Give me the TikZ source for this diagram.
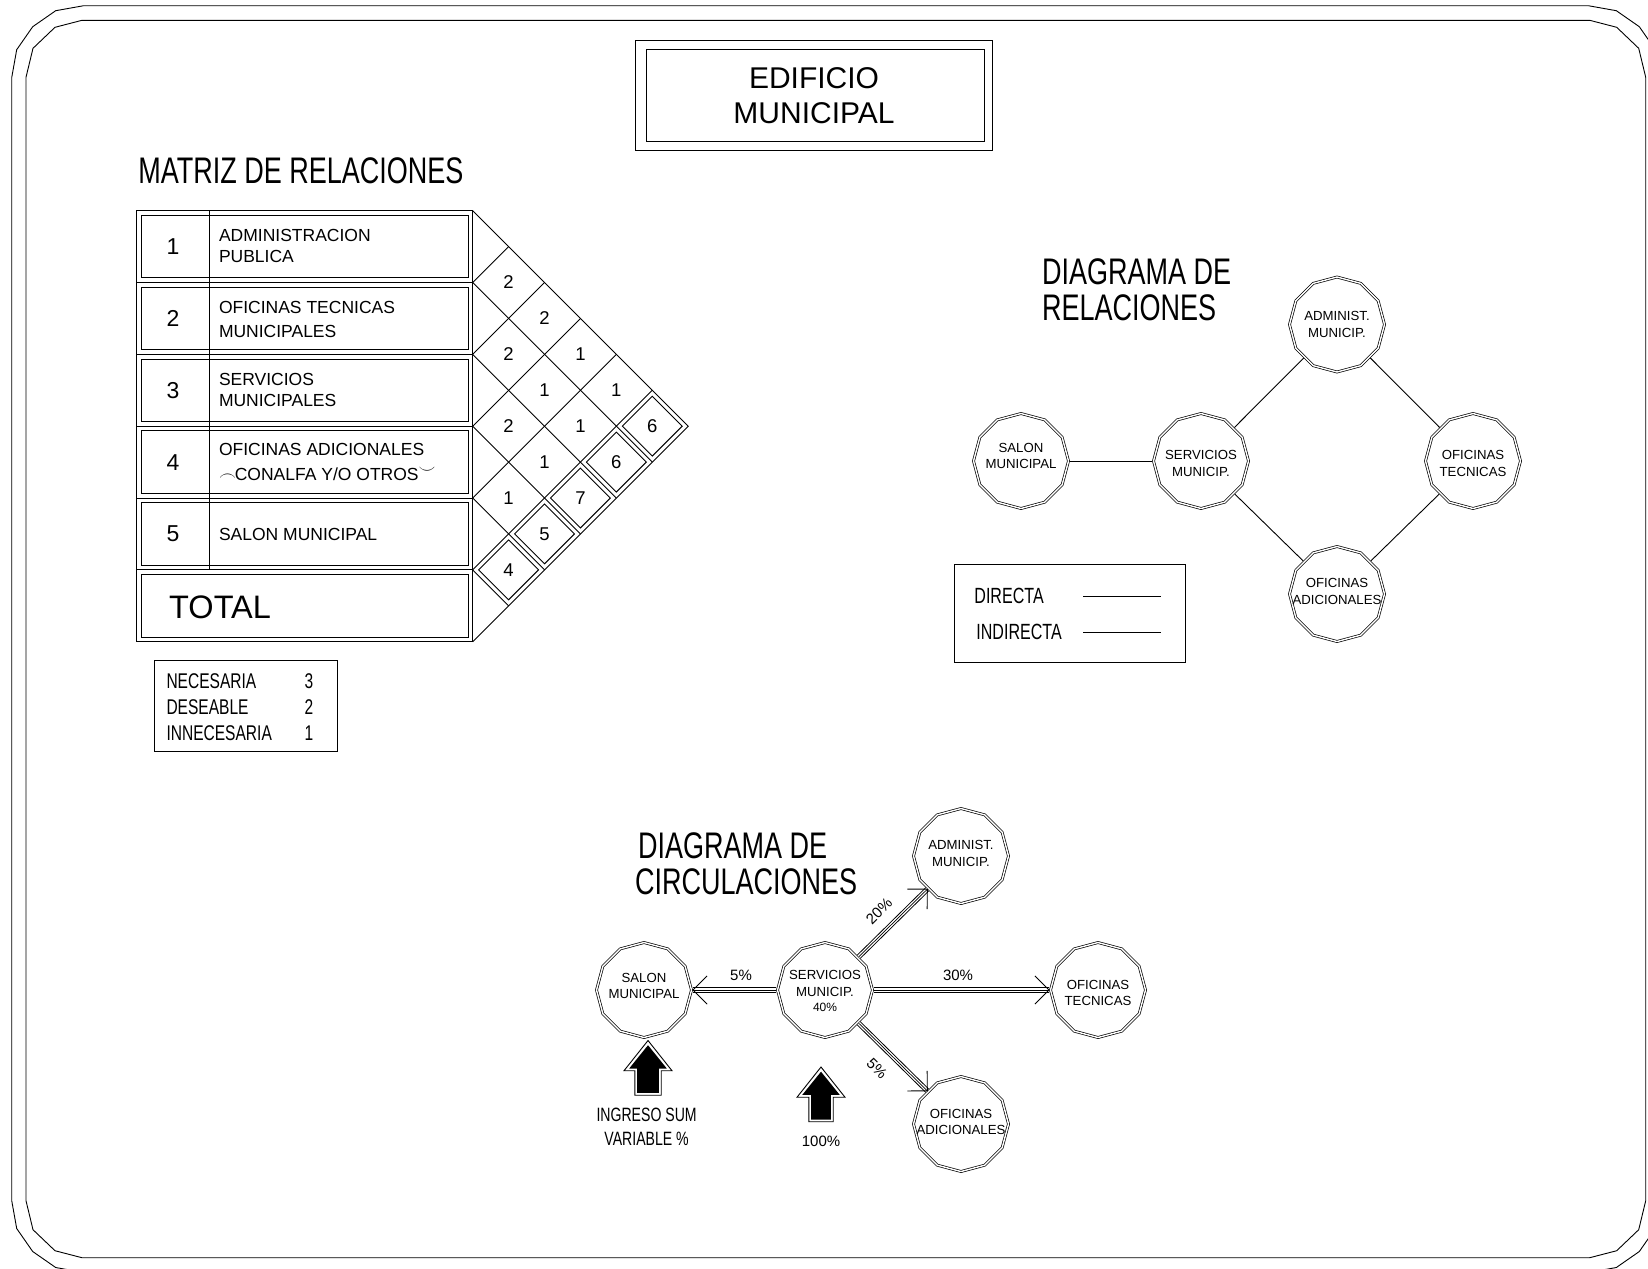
\documentclass[tikz,border=0pt]{standalone}
\usepackage{fontspec}
\setmainfont{Liberation Sans}
\newfontfamily\narrowf[FakeStretch=0.73]{Liberation Sans}
\usetikzlibrary{shapes.geometric,calc}
\tikzset{
  base/.style={inner sep=0pt, outer sep=0pt},
  bigtitle/.style={base, anchor=base west, font=\narrowf\fontsize{37bp}{44bp}\selectfont},
  boxtitle/.style={base, anchor=base, font=\fontsize{30bp}{36bp}\selectfont},
  rownum/.style={base, anchor=center, font=\fontsize{23bp}{27bp}\selectfont},
  rowtxt/.style={base, anchor=base west, font=\fontsize{17.5bp}{21bp}\selectfont},
  cellnum/.style={base, anchor=center, font=\fontsize{18.5bp}{22bp}\selectfont},
  legtxt/.style={base, anchor=base west, font=\narrowf\fontsize{21.3bp}{25bp}\selectfont},
  legnum/.style={base, anchor=base, font=\narrowf\fontsize{21.3bp}{25bp}\selectfont},
  poly/.style={regular polygon, regular polygon sides=12, shape border rotate=15,
    minimum size=95bp, inner sep=0pt, outer sep=1.4bp, draw, line width=0.7bp,
    double, double distance=1.4bp},
  ctext/.style={base, align=center, font=\fontsize{13.2bp}{16.5bp}\selectfont},
  pct/.style={base, anchor=base, font=\fontsize{15bp}{18bp}\selectfont},
  rel/.style={line width=0.9bp},
  tri/.style={draw=white, line width=3.3bp, preaction={draw=black, line width=5.2bp},
    postaction={draw=black, line width=0.7bp}},
  head/.style={line width=0.9bp},
}
\newcommand{\circarrow}[2]{%
  \draw[tri] (#1) -- (#2) coordinate[pos=1] (tip-#2);
  \draw[head] ($(tip-#2)!20bp!45:(#1)$) -- (tip-#2) -- ($(tip-#2)!20bp!-45:(#1)$);
}
\begin{document}
\begin{tikzpicture}[x=1bp, y=-1bp, line width=0.9bp]
\useasboundingbox (0,0) rectangle (1648,1268);
% ---------- frame ----------
\begin{scope}
\clip (0,0) rectangle (1648,1268);
\draw (83.7,5.7) -- (1588.3,5.7) -- (1616.3,10.7) -- (1639.3,26.7) -- (1655.3,49.7) -- (1660.3,77.7)
  -- (1660.3,1200.5) -- (1655.3,1228.5) -- (1639.3,1251.5) -- (1616.3,1267.5) -- (1588.3,1272.5)
  -- (83.7,1272.5) -- (55.7,1267.5) -- (32.7,1251.5) -- (16.7,1228.5) -- (11.7,1200.5)
  -- (11.7,77.7) -- (16.7,49.7) -- (32.7,26.7) -- (55.7,10.7) -- cycle;
\draw (82,20.3) -- (1589.7,20.3) -- (1616.7,27.3) -- (1638.7,48.3) -- (1645.7,77.3)
  -- (1645.7,1200.7) -- (1638.7,1229.7) -- (1616.7,1250.7) -- (1589.7,1257.7)
  -- (82,1257.7) -- (55,1250.7) -- (33,1229.7) -- (26,1200.7)
  -- (26,77.3) -- (33,48.3) -- (55,27.3) -- cycle;
\end{scope}
% ---------- title ----------
\draw (635.7,40) rectangle (992.7,150);
\draw (646,49) rectangle (984,141);
\node[boxtitle] (title1) at (814,88) {EDIFICIO};
\node[boxtitle] (title2) at (814,123) {MUNICIPAL};
% ---------- matrix ----------
\node[bigtitle] (mtitle) at (138.3,183) {MATRIZ DE RELACIONES};
\draw (136.6,210.7) rectangle (472.7,641.7);
\foreach \k in {1,...,5}{
  \draw (136.6,{210.7+\k*71.83}) -- (472.7,{210.7+\k*71.83});
}
\foreach \k in {0,...,5}{
  \draw (141.5,{210.7+\k*71.83+4.6}) rectangle (468.9,{210.7+(\k+1)*71.83-4.6});
}
\draw (209.5,210.7) -- (209.5,569.9);
\foreach \k in {1,...,5}{
  \node[rownum] (num\k) at (172.9,{210.7+(\k-0.5)*71.83}) {\k};
}
\node[rowtxt] (r1a) at (219,241.7) {ADMINISTRACION};
\node[rowtxt] (r1b) at (219,262.7) {PUBLICA};
\node[rowtxt] (r2a) at (219,313.3) {OFICINAS TECNICAS};
\node[rowtxt] (r2b) at (219,337.7) {MUNICIPALES};
\node[rowtxt] (r3a) at (219,385) {SERVICIOS};
\node[rowtxt] (r3b) at (219,406) {MUNICIPALES};
\node[rowtxt] (r4a) at (219,455) {OFICINAS ADICIONALES};
\node[rowtxt] (r4b) at (219,480.7) {$\frown$\kern-1bp CONALFA Y/O OTROS\raisebox{0.42em}{$\smile$}};
\node[rowtxt] (r5a) at (219,540) {SALON MUNICIPAL};
\node[base, anchor=base west, font=\fontsize{32.5bp}{38bp}\selectfont] (total) at (169.2,618.3) {TOTAL};
% triangle grid
\draw (472.7,210.7) -- (688.2,426.2) -- (472.7,641.7);
\foreach \k in {1,...,5}{
  \draw (472.7,{210.7+\k*71.83}) -- ++({(6-\k)*35.915},{(6-\k)*35.915});
  \draw (472.7,{210.7+\k*71.83}) -- ++({\k*35.915},{-\k*35.915});
}
\foreach \k in {1,...,5}{
  \pgfmathsetmacro\cx{472.7+(6-\k)*35.915}
  \pgfmathsetmacro\cy{210.7+(\k+5)/2*71.83}
  \draw ({\cx-29.9},\cy) -- (\cx,{\cy-29.9}) -- ({\cx+29.9},\cy) -- (\cx,{\cy+29.9}) -- cycle;
}
\foreach \i/\j/\v in {1/2/2,2/3/2,3/4/2,4/5/1,1/3/2,2/4/1,3/5/1,1/4/1,2/5/1,1/5/1,
                      1/6/6,2/6/6,3/6/7,4/6/5,5/6/4}{
  \node[cellnum] (m\i\j) at ({472.7+(\j-\i)*35.915},{210.7+((\i+\j)/2-0.5)*71.83}) {\v};
}
% legend matrix
\draw (154,660.7) rectangle (337.3,751.7);
\node[legtxt] (lg1) at (166.5,688) {NECESARIA};
\node[legtxt] (lg2) at (166.5,714) {DESEABLE};
\node[legtxt] (lg3) at (166.5,740) {INNECESARIA};
\node[legnum] (lgn1) at (309,688) {3};
\node[legnum] (lgn2) at (309,714) {2};
\node[legnum] (lgn3) at (309,740) {1};
% ---------- diagrama de relaciones ----------
\node[bigtitle] (rtitle1) at (1042,284) {DIAGRAMA DE};
\node[bigtitle] (rtitle2) at (1042,320.5) {RELACIONES};
\node[poly] (rA) at (1337,324.5) {};
\node[poly] (rS) at (1021,461) {};
\node[poly] (rV) at (1201,461) {};
\node[poly] (rT) at (1473,461) {};
\node[poly] (rD) at (1337,594) {};
\node[ctext] (rA-t) at (1337,324.5) {ADMINIST.\\MUNICIP.};
\node[ctext] (rS-t) at (1021,456) {SALON\\MUNICIPAL};
\node[ctext] (rV-t) at (1201,463.5) {SERVICIOS\\MUNICIP.};
\node[ctext] (rT-t) at (1473,463.5) {OFICINAS\\TECNICAS};
\node[ctext] (rD-t) at (1337,591.5) {OFICINAS\\ADICIONALES};
\draw[rel] (rS) -- (rV);
\draw[rel] (rV) -- (rA);
\draw[rel] (rA) -- (rT);
\draw[rel] (rV) -- (rD);
\draw[rel] (rD) -- (rT);
% legend relaciones
\draw (954,564.4) rectangle (1185.4,662);
\node[legtxt, font=\narrowf\fontsize{22bp}{26bp}\selectfont] (ldir) at (974.4,603) {DIRECTA};
\node[legtxt, font=\narrowf\fontsize{22bp}{26bp}\selectfont] (lind) at (976.4,639) {INDIRECTA};
\coordinate (ld1) at (1083,596);
\coordinate (ld2) at (1161,596);
\coordinate (li1) at (1083,632.5);
\coordinate (li2) at (1161,632.5);
\draw[rel] (ld1) -- (ld2);
\draw[rel] (li1) -- (li2);
% ---------- diagrama de circulaciones ----------
\node[bigtitle] (ctitle1) at (638,858) {DIAGRAMA DE};
\node[bigtitle] (ctitle2) at (635,894) {CIRCULACIONES};
\node[poly] (cS) at (644,990) {};
\node[poly] (cV) at (825,990) {};
\node[poly] (cA) at (961,856) {};
\node[poly] (cT) at (1098,990) {};
\node[poly] (cD) at (961,1124) {};
\node[ctext] (cS-t) at (644,986) {SALON\\MUNICIPAL};
\node[ctext] (cV-t) at (825,991) {SERVICIOS\\MUNICIP.\\[-1.5bp]{\fontsize{12bp}{14bp}\selectfont 40\%}};
\node[ctext] (cA-t) at (961,853.5) {ADMINIST.\\MUNICIP.};
\node[ctext] (cT-t) at (1098,993) {OFICINAS\\TECNICAS};
\node[ctext] (cD-t) at (961,1122) {OFICINAS\\ADICIONALES};
\circarrow{cV}{cS}
\circarrow{cV}{cT}
\circarrow{cV}{cA}
\circarrow{cV}{cD}
\node[pct] (p1) at (741,980) {5\%};
\node[pct] (p2) at (958,980) {30\%};
\node[base, font=\fontsize{15bp}{18bp}\selectfont, rotate=45] (p3) at (879,911) {20\%};
\node[base, font=\fontsize{15bp}{18bp}\selectfont, rotate=-45] (p4) at (877,1069) {5\%};
% block arrows
\fill (648,1043.5) -- (669,1069.5) -- (660,1069.5) -- (660,1094) -- (636,1094) -- (636,1069.5) -- (627,1069.5) -- cycle;
\draw[line width=1.8bp, white] (648,1043.5) -- (669,1069.5) -- (660,1069.5) -- (660,1094) -- (636,1094) -- (636,1069.5) -- (627,1069.5) -- cycle;
\draw[line width=0.9bp, black] (648,1040.5) -- (672,1070.7) -- (661.2,1070.7) -- (661.2,1095.2) -- (634.8,1095.2) -- (634.8,1070.7) -- (624,1070.7) -- cycle;
\fill (821,1070) -- (842,1096) -- (832,1096) -- (832,1120.5) -- (810,1120.5) -- (810,1096) -- (800,1096) -- cycle;
\draw[line width=1.8bp, white] (821,1070) -- (842,1096) -- (832,1096) -- (832,1120.5) -- (810,1120.5) -- (810,1096) -- (800,1096) -- cycle;
\draw[line width=0.9bp, black] (821,1067) -- (845,1097.2) -- (833.2,1097.2) -- (833.2,1121.7) -- (808.8,1121.7) -- (808.8,1097.2) -- (797,1097.2) -- cycle;
\node[base, anchor=base, font=\narrowf\fontsize{19.3bp}{24bp}\selectfont] (ing1) at (646.6,1121) {INGRESO SUM};
\node[base, anchor=base, font=\narrowf\fontsize{19.3bp}{24bp}\selectfont] (ing2) at (646.6,1145) {VARIABLE \%};
\node[pct] (p100) at (821,1146) {100\%};
\end{tikzpicture}
\end{document}
